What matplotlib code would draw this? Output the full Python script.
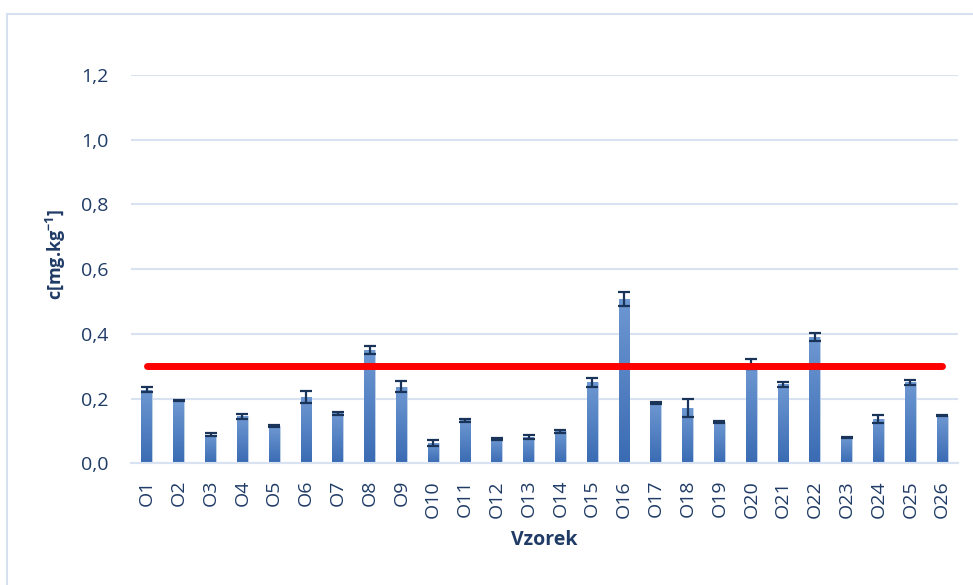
import matplotlib
matplotlib.use("Agg")
import matplotlib.pyplot as plt
import numpy as np
from matplotlib.patches import Rectangle
from matplotlib.colors import LinearSegmentedColormap
from matplotlib.ticker import FuncFormatter

categories = [f"O{i}" for i in range(1, 27)]
values = [0.228, 0.194, 0.089, 0.145, 0.114, 0.205, 0.155, 0.350, 0.237, 0.062,
          0.133, 0.075, 0.081, 0.099, 0.250, 0.507, 0.187, 0.172, 0.128, 0.306,
          0.244, 0.390, 0.080, 0.137, 0.250, 0.147]
errors = [0.009, 0.002, 0.006, 0.007, 0.003, 0.019, 0.005, 0.013, 0.016, 0.009,
          0.005, 0.003, 0.005, 0.005, 0.015, 0.022, 0.003, 0.028, 0.004, 0.016,
          0.007, 0.012, 0.002, 0.012, 0.007, 0.002]
limit = [0.3] * 26
yticks = [0.0, 0.2, 0.4, 0.6, 0.8, 1.0, 1.2]

font = "Open Sans"
plt.rcParams["font.family"] = [font, "DejaVu Sans"]
plt.rcParams["mathtext.fontset"] = "custom"
plt.rcParams["mathtext.rm"] = "Open Sans"
plt.rcParams["mathtext.bf"] = "Open Sans:bold"
tick_color = "#1f3b66"
grid_color = "#d9e2f1"

fig = plt.figure(figsize=(9.73, 5.85), dpi=100)
ax = fig.add_axes([131/973, (585-463.3)/585, (958-131)/973, (463.3-75)/585])

x = np.arange(len(categories))
bars = ax.bar(x, values, width=0.34, color="#4a7cc0", edgecolor="#c5d5ec",
              linewidth=0.6, zorder=2)

cmap = LinearSegmentedColormap.from_list("g", ["#3a6bb3", "#6e98d2"])
grad = np.linspace(0, 1, 100).reshape(-1, 1)
for b in bars:
    bx, by, bw, bh = b.get_x(), b.get_y(), b.get_width(), b.get_height()
    im = ax.imshow(grad, cmap=cmap, origin="lower", aspect="auto",
                   extent=[bx, bx + bw, by, by + bh], zorder=2.1)
    im.set_clip_path(b)

ax.errorbar(x, values, yerr=errors, fmt="none", ecolor="#1a3358",
            elinewidth=1.6, capsize=4.5, capthick=1.6, zorder=3)

ax.plot(x, limit, color="#ff0000", linewidth=5, solid_capstyle="round", zorder=4)

ax.set_xlim(-0.5, len(categories) - 0.5)
ax.set_ylim(0, 1.2)
ax.set_yticks(yticks)
ax.yaxis.set_major_formatter(FuncFormatter(lambda v, p: f"{v:.1f}".replace(".", ",")))
ax.set_xticks(x)
ax.set_xticklabels(categories, rotation=90)
ax.grid(axis="y", color=grid_color, linewidth=1.5, zorder=0)
ax.set_axisbelow(True)
for s in ["top", "right", "left"]:
    ax.spines[s].set_visible(False)
ax.spines["bottom"].set_color(grid_color)
ax.spines["bottom"].set_linewidth(1.5)
ax.tick_params(axis="both", length=0, colors=tick_color, labelsize=14)
ax.tick_params(axis="y", pad=16)
ax.tick_params(axis="x", pad=12)

ax.set_xlabel("Vzorek", fontsize=14, fontweight="bold", color=tick_color,
              labelpad=9)
ax.set_ylabel(r"c[mg.kg$^{\mathbf{-1}}$]", fontsize=13, fontweight="bold",
              color=tick_color)
ax.yaxis.set_label_coords(-(131 - 68) / 827, (463.3 - 254) / 388.3)

fig.patches.append(Rectangle((7/973, -0.05), 1.1, (585-13.5)/585 + 0.05,
                             transform=fig.transFigure, fill=False,
                             edgecolor="#d6e0f0", linewidth=1.5))

fig.savefig("out.png", dpi=100)
